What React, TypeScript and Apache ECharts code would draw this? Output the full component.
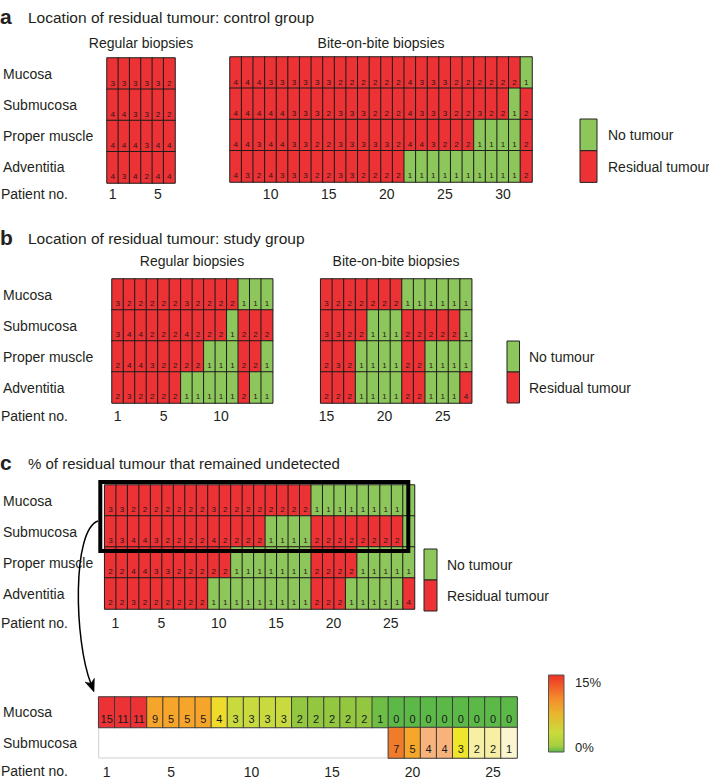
import React, { useEffect, useRef } from 'react';
import * as echarts from 'echarts';

// ---------- categories ----------
const ROWS = ['Adventitia', 'Proper muscle', 'Submucosa', 'Mucosa']; // bottom -> top
const D_ROWS = ['Submucosa', 'Mucosa'];

const aRegPatients = [1, 2, 3, 4, 5, 6];
const aBitePatients = [7, 8, 9, 10, 11, 12, 13, 14, 15, 16, 17, 18, 19, 20, 21, 22, 23, 24, 25, 26, 27, 28, 29, 30, 31, 32];
const bRegPatients = [1, 2, 3, 4, 5, 6, 7, 8, 9, 10, 11, 12, 13, 14];
const bBitePatients = [15, 16, 17, 18, 19, 20, 21, 22, 23, 24, 25, 26, 27];
const cPatients = [1, 2, 3, 4, 5, 6, 7, 8, 9, 10, 11, 12, 13, 14, 15, 16, 17, 18, 19, 20, 21, 22, 23, 24, 25, 26, 27];
const dPatients = [1, 2, 3, 4, 5, 6, 7, 8, 9, 10, 11, 12, 13, 14, 15, 16, 17, 18, 19, 20, 21, 22, 23, 24, 25, 26];

// ---------- tick labels ----------
const aRegTicks = [1, 5];
const aBiteTicks = [10, 15, 20, 25, 30];
const bRegTicks = [1, 5, 10];
const bBiteTicks = [15, 20, 25];
const cTicks = [1, 5, 10, 15, 20, 25];
const dTicks = [1, 5, 10, 15, 20, 25];

// ---------- panel a: control group ----------
const aRegMucosa = [3, 3, 3, 3, 3, 2];
const aRegSubmucosa = [4, 4, 3, 3, 2, 2];
const aRegProper = [4, 4, 4, 3, 4, 4];
const aRegAdventitia = [4, 3, 4, 2, 4, 4];

const aBiteMucosa = [4, 4, 4, 3, 3, 3, 3, 3, 3, 2, 2, 2, 2, 2, 2, 4, 3, 3, 3, 2, 2, 2, 2, 2, 2, 1];
const aBiteSubmucosa = [4, 4, 4, 4, 4, 3, 3, 3, 2, 3, 3, 3, 2, 2, 2, 4, 3, 3, 3, 2, 2, 3, 2, 2, 1, 2];
const aBiteProper = [4, 4, 3, 4, 4, 3, 3, 2, 2, 3, 3, 3, 3, 3, 2, 4, 4, 3, 2, 2, 2, 1, 1, 1, 1, 2];
const aBiteAdventitia = [4, 3, 2, 4, 3, 3, 3, 2, 2, 3, 3, 2, 2, 2, 2, 1, 1, 1, 1, 1, 1, 1, 1, 1, 1, 2];

// ---------- panel b: study group ----------
const bRegMucosa = [3, 2, 2, 2, 2, 2, 3, 2, 2, 2, 2, 1, 1, 1];
const bRegSubmucosa = [3, 4, 4, 2, 2, 2, 4, 2, 2, 2, 1, 2, 2, 2];
const bRegProper = [2, 4, 4, 3, 2, 2, 2, 2, 1, 1, 1, 2, 2, 1];
const bRegAdventitia = [2, 3, 2, 2, 2, 2, 1, 1, 1, 1, 1, 2, 1, 1];

const bBiteMucosa = [3, 2, 2, 2, 2, 2, 2, 1, 1, 1, 1, 1, 1];
const bBiteSubmucosa = [3, 3, 2, 2, 1, 1, 1, 2, 2, 2, 2, 2, 1];
const bBiteProper = [2, 3, 2, 1, 1, 1, 1, 2, 2, 1, 1, 1, 1];
const bBiteAdventitia = [2, 2, 2, 1, 1, 1, 1, 2, 2, 1, 1, 1, 4];

// ---------- panel c ----------
const cMucosa = [3, 3, 2, 2, 2, 2, 2, 2, 2, 3, 2, 2, 2, 2, 2, 2, 2, 2, 1, 1, 1, 1, 1, 1, 1, 1, 1];
const cSubmucosa = [3, 3, 4, 4, 3, 2, 2, 2, 2, 4, 2, 2, 2, 2, 1, 1, 1, 1, 2, 2, 2, 2, 2, 2, 2, 2, 1];
const cProper = [2, 2, 4, 4, 3, 3, 2, 2, 2, 2, 2, 1, 1, 1, 1, 1, 1, 1, 2, 2, 2, 2, 1, 1, 1, 1, 1];
const cAdventitia = [2, 2, 3, 2, 2, 2, 2, 2, 2, 1, 1, 1, 1, 1, 1, 1, 1, 1, 2, 2, 2, 1, 1, 1, 1, 1, 4];

// ---------- undetected % (bottom) ----------
const dMucosa = [15, 11, 11, 9, 5, 5, 5, 4, 3, 3, 3, 3, 2, 2, 2, 2, 2, 1, 0, 0, 0, 0, 0, 0, 0, 0];
const dSubmucosa = [null, null, null, null, null, null, null, null, null, null, null, null, null, null, null, null, null, null, 7, 5, 4, 4, 3, 2, 2, 1];

// ---------- styles ----------
const RED = '#ec3235';
const GREEN = '#8dc75b';
const FONT = 'Liberation Sans, Arial, Helvetica, sans-serif';
const TXT = '#231f20';

function cells(rowsTopDown: (number | null)[][]) {
  const out: any[] = [];
  rowsTopDown.forEach((row, r) => {
    const y = ROWS.length - 1 - r;
    row.forEach((v, x) => {
      if (v !== null && v !== undefined) out.push([x, y, v]);
    });
  });
  return out;
}

function cells2(rowsTopDown: (number | null)[][]) {
  const out: any[] = [];
  rowsTopDown.forEach((row, r) => {
    const y = D_ROWS.length - 1 - r;
    row.forEach((v, x) => {
      if (v !== null && v !== undefined) out.push([x, y, v]);
    });
  });
  return out;
}

const grids = [
  { left: 105, top: 58, width: 70, height: 125 },
  { left: 230, top: 57, width: 302, height: 125 },
  { left: 110, top: 279, width: 162.7, height: 124 },
  { left: 320.7, top: 279, width: 151, height: 124 },
  { left: 102.7, top: 485, width: 311.8, height: 124 },
  { left: 96.7, top: 697, width: 420.4, height: 61, show: true, borderColor: '#cfcfcf', borderWidth: 1 },
];

function xAxis(gi: number, patients: number[], ticks: number[], margin: number, extra: any = {}) {
  return {
    gridIndex: gi,
    type: 'category',
    data: patients.map(String),
    axisLine: { show: false },
    axisTick: { show: false },
    splitLine: { show: false },
    axisLabel: {
      interval: (_i: number, v: string) => ticks.includes(Number(v)),
      fontSize: 14,
      fontFamily: FONT,
      color: TXT,
      margin,
      ...extra,
    },
  };
}

function yAxis(gi: number, rows: string[], showLabel: boolean) {
  const g = grids[gi];
  return {
    gridIndex: gi,
    type: 'category',
    data: rows,
    axisLine: { show: false },
    axisTick: { show: false },
    splitLine: { show: false },
    axisLabel: {
      show: showLabel,
      align: 'left',
      margin: g.left - 1,
      fontSize: 14,
      fontFamily: FONT,
      color: TXT,
    },
  };
}

function heat(gi: number, data: any[], small = true) {
  return {
    type: 'heatmap',
    xAxisIndex: gi,
    yAxisIndex: gi,
    data,
    itemStyle: { borderColor: small ? '#1c1c1c' : '#3a3a3a', borderWidth: 1 },
    label: {
      show: true,
      position: 'insideBottom',
      distance: small ? 3 : 4,
      fontSize: small ? 8 : 11,
      fontFamily: FONT,
      color: small ? '#2a1616' : '#1a1a1a',
      formatter: (p: any) => String(p.value[2]),
    },
    emphasis: { disabled: true },
  };
}

function txt(text: string, x: number, y: number, size = 14, opts: any = {}) {
  return {
    type: 'text',
    x,
    y,
    z: 50,
    style: {
      text,
      fill: TXT,
      font: `${opts.bold ? 'bold ' : ''}${size}px ${FONT}`,
      textAlign: opts.align || 'left',
      textVerticalAlign: 'middle',
      align: opts.align || 'left',
      verticalAlign: 'middle',
    },
  };
}

function legend(x: number, y: number, w: number, h: number, tx: number) {
  return [
    { type: 'rect', shape: { x, y, width: w, height: h }, style: { fill: GREEN, stroke: '#222', lineWidth: 1 }, z: 50 },
    { type: 'rect', shape: { x, y: y + h, width: w, height: h }, style: { fill: RED, stroke: '#222', lineWidth: 1 }, z: 50 },
    txt('No tumour', tx, y + h / 2),
    txt('Residual tumour', tx, y + h * 1.5),
  ];
}

export default function App() {
  const ref = useRef<HTMLDivElement>(null);
  useEffect(() => {
    if (!ref.current) return;
    const chart = echarts.init(ref.current, null, { renderer: 'svg' });
    const option: any = {
      animation: false,
      backgroundColor: '#ffffff',
      textStyle: { fontFamily: FONT },
      grid: grids,
      xAxis: [
        xAxis(0, aRegPatients, aRegTicks, 4),
        xAxis(1, aBitePatients, aBiteTicks, 5),
        xAxis(2, bRegPatients, bRegTicks, 6),
        xAxis(3, bBitePatients, bBiteTicks, 6),
        xAxis(4, cPatients, cTicks, 7, { padding: [0, 0, 0, 10] }),
        xAxis(5, dPatients, dTicks, 7),
      ],
      yAxis: [
        yAxis(0, ROWS, true),
        yAxis(1, ROWS, false),
        yAxis(2, ROWS, true),
        yAxis(3, ROWS, false),
        yAxis(4, ROWS, true),
        yAxis(5, D_ROWS, true),
      ],
      visualMap: [
        {
          type: 'piecewise',
          show: false,
          dimension: 2,
          seriesIndex: [0, 1, 2, 3, 4],
          pieces: [
            { value: 1, color: GREEN },
            { min: 2, max: 4, color: RED },
          ],
        },
        {
          type: 'piecewise',
          show: false,
          dimension: 2,
          seriesIndex: 5,
          pieces: [
            { min: 10, max: 15, color: '#ec3235' },
            { min: 5, max: 9, color: '#f6a52b' },
            { value: 4, color: '#efdb2b' },
            { value: 3, color: '#c8da3d' },
            { value: 2, color: '#93c73f' },
            { value: 1, color: '#6ebe45' },
            { value: 0, color: '#5cb947' },
          ],
        },
        {
          type: 'piecewise',
          show: false,
          dimension: 2,
          seriesIndex: 6,
          pieces: [
            { value: 7, color: '#f07c2b' },
            { value: 5, color: '#f7a62c' },
            { value: 4, color: '#f8b27b' },
            { value: 3, color: '#efe52b' },
            { value: 2, color: '#f6efa4' },
            { value: 1, color: '#fbf6d0' },
          ],
        },
      ],
      series: [
        heat(0, cells([aRegMucosa, aRegSubmucosa, aRegProper, aRegAdventitia])),
        heat(1, cells([aBiteMucosa, aBiteSubmucosa, aBiteProper, aBiteAdventitia])),
        heat(2, cells([bRegMucosa, bRegSubmucosa, bRegProper, bRegAdventitia])),
        heat(3, cells([bBiteMucosa, bBiteSubmucosa, bBiteProper, bBiteAdventitia])),
        heat(4, cells([cMucosa, cSubmucosa, cProper, cAdventitia])),
        heat(5, cells2([dMucosa, dSubmucosa.map(() => null)]), false),
        heat(5, cells2([dMucosa.map(() => null), dSubmucosa]), false),
      ],
      graphic: [
        // panel a
        txt('a', 0, 16, 21, { bold: true }),
        txt('Location of residual tumour: control group', 28, 17, 15.5),
        txt('Regular biopsies', 141, 43, 14, { align: 'center' }),
        txt('Bite-on-bite biopsies', 381, 43, 14, { align: 'center' }),
        txt('Patient no.', 1, 194),
        ...legend(580, 119, 17, 31.7, 608),
        // panel b
        txt('b', 0, 237, 21, { bold: true }),
        txt('Location of residual tumour: study group', 28, 238, 15.5),
        txt('Regular biopsies', 192, 261, 14, { align: 'center' }),
        txt('Bite-on-bite biopsies', 396, 261, 14, { align: 'center' }),
        txt('Patient no.', 1, 416),
        ...legend(507, 341, 12.5, 31, 529),
        // panel c
        txt('c', 0, 462, 21, { bold: true }),
        txt('% of residual tumour that remained undetected', 28, 463, 15),
        txt('Patient no.', 1, 623),
        ...legend(424, 549, 13, 31, 447),
        {
          type: 'rect',
          z: 60,
          shape: { x: 100.3, y: 482, width: 308, height: 69 },
          style: { fill: 'none', stroke: '#000', lineWidth: 4 },
        },
        {
          type: 'bezierCurve',
          z: 60,
          shape: { x1: 98, y1: 521, cpx1: 72, cpy1: 530, cpx2: 74, cpy2: 640, x2: 91, y2: 684 },
          style: { stroke: '#000', lineWidth: 1.5, fill: 'none' },
        },
        {
          type: 'polygon',
          z: 60,
          shape: { points: [[94, 692], [85, 682], [90.8, 683.4], [94.4, 678.3]] },
          style: { fill: '#000', stroke: '#000', lineWidth: 0.5 },
        },
        // bottom
        txt('Patient no.', 1, 771),
        {
          type: 'rect',
          z: 50,
          shape: { x: 548.5, y: 675, width: 15.5, height: 77 },
          style: {
            stroke: '#555',
            lineWidth: 1,
            fill: new echarts.graphic.LinearGradient(0, 0, 0, 1, [
              { offset: 0, color: '#ee3124' },
              { offset: 0.3, color: '#f58a2b' },
              { offset: 0.5, color: '#e9b52c' },
              { offset: 0.75, color: '#c9dc3a' },
              { offset: 0.92, color: '#a6cf40' },
              { offset: 1, color: '#57b847' },
            ]),
          },
        },
        txt('15%', 575, 682, 13),
        txt('0%', 575, 747, 13),
      ],
    };
    chart.setOption(option);
    return () => chart.dispose();
  }, []);
  return <div ref={ref} style={{ position: 'absolute', left: 0, top: 0, width: 709, height: 780 }} />;
}
